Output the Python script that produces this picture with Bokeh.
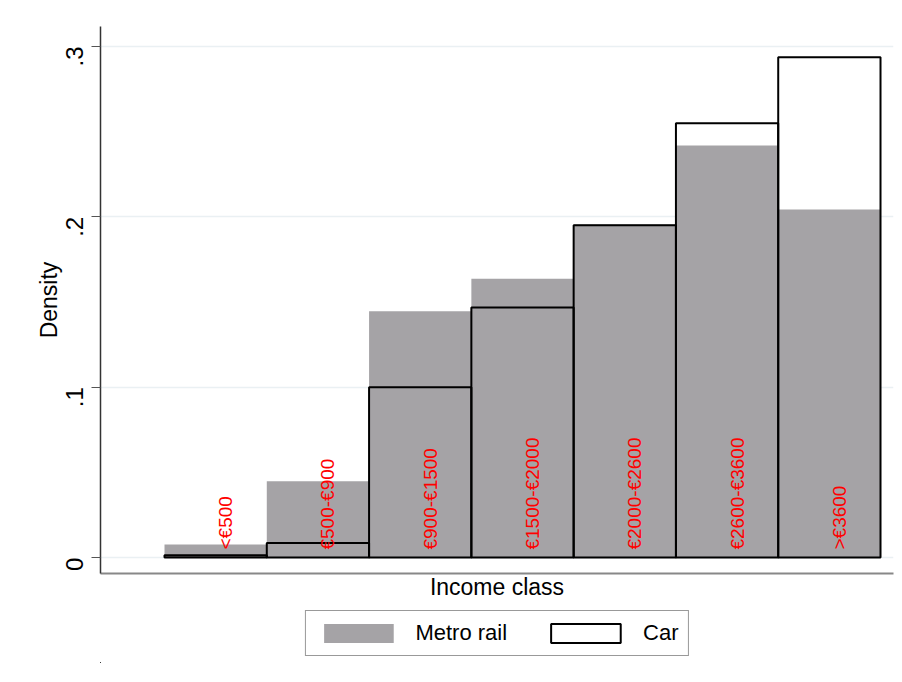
import math
from bokeh.plotting import figure
from bokeh.layouts import column
from bokeh.models import ColumnDataSource, FixedTicker, Legend, LegendItem, Range1d
from bokeh.core.properties import value
from bokeh.embed import file_html
from bokeh.resources import INLINE

# ---- data ----
categories = ["<€500", "€500-€900", "€900-€1500", "€1500-€2000",
              "€2000-€2600", "€2600-€3600", ">€3600"]
class_index = [1, 2, 3, 4, 5, 6, 7]
metro_rail = [0.0076, 0.0448, 0.1445, 0.1637, 0.1955, 0.2418, 0.2043]
car = [0.0013, 0.0085, 0.1000, 0.1468, 0.1950, 0.2549, 0.2936]
y_ticks = [0, 0.1, 0.2, 0.3]
y_tick_labels = {0: "0", 0.1: ".1", 0.2: ".2", 0.3: ".3"}
series_names = ["Metro rail", "Car"]

FONT = "Liberation Sans"
METRO_FILL = "#a5a3a6"

src = ColumnDataSource(dict(x=class_index, metro=metro_rail, car=car,
                            label=categories, zero=[0] * len(class_index)))

p = figure(frame_width=793, frame_height=547, output_backend="svg",
           toolbar_location=None, min_border_top=26, min_border_left=100,
           min_border_right=7, min_border_bottom=30,
           x_range=Range1d(-0.1257, 7.627), y_range=Range1d(-0.00937, 0.3117))
p.outline_line_color = None
p.background_fill_color = "white"
p.border_fill_color = "white"

p.vbar(x="x", top="metro", bottom=0, width=1.0, source=src,
       fill_color=METRO_FILL, line_color=None)
p.vbar(x="x", top="car", bottom=0, width=1.0, source=src,
       fill_color=None, line_color="black", line_width=2)

p.text(x="x", y="zero", text="label", source=src, angle=math.pi / 2,
       text_align="left", text_baseline="middle", x_offset=10, y_offset=-8,
       text_color="#ff0000", text_font=value(FONT), text_font_size="19px")

# grid
p.xgrid.grid_line_color = None
p.ygrid.ticker = FixedTicker(ticks=y_ticks)
p.ygrid.grid_line_color = "#eaf0f3"
p.ygrid.grid_line_width = 1.5
p.ygrid.level = "underlay"

# y axis
ya = p.yaxis[0]
ya.ticker = FixedTicker(ticks=y_ticks)
ya.major_label_overrides = y_tick_labels
ya.major_label_orientation = math.pi / 2
ya.major_label_text_font = FONT
ya.major_label_text_font_size = "24px"
ya.major_label_text_color = "black"
ya.major_tick_out = 9
ya.major_tick_in = 0
ya.minor_tick_out = 0
ya.minor_tick_in = 0
ya.major_tick_line_color = "#555555"
ya.axis_line_color = "#333333"
ya.axis_line_width = 1.5
ya.axis_label = "Density"
ya.axis_label_text_font = FONT
ya.axis_label_text_font_size = "23px"
ya.axis_label_text_font_style = "normal"
ya.axis_label_text_color = "black"
ya.axis_label_standoff = -7
ya.major_label_standoff = 17

# x axis
xa = p.xaxis[0]
xa.ticker = FixedTicker(ticks=[])
xa.major_tick_out = 0
xa.major_tick_in = 0
xa.minor_tick_out = 0
xa.axis_line_color = "#888888"
xa.axis_line_width = 2
xa.axis_label = "Income class"
xa.axis_label_text_font = FONT
xa.axis_label_text_font_size = "23px"
xa.axis_label_text_font_style = "normal"
xa.axis_label_text_color = "black"
xa.axis_label_standoff = 0
xa.major_label_standoff = 0

# ---- legend strip (separate figure below the plot) ----
# its ranges are set far away from the data so only the legend swatches show
p2 = figure(width=900, height=60, output_backend="svg", toolbar_location=None,
            x_axis_type=None, y_axis_type=None,
            min_border_top=0, min_border_bottom=0, min_border_left=100,
            min_border_right=7, x_range=Range1d(100, 101), y_range=Range1d(10, 11))
p2.outline_line_color = None
p2.xgrid.visible = False
p2.ygrid.visible = False
metro_r = p2.vbar(x="x", top="metro", width=1.0, source=src,
                  fill_color=METRO_FILL, line_color=None)
car_r = p2.vbar(x="x", top="car", width=1.0, source=src,
                fill_color="white", line_color="black", line_width=2)

legend = Legend(items=[LegendItem(label=series_names[0], renderers=[metro_r]),
                       LegendItem(label=series_names[1], renderers=[car_r])],
                orientation="horizontal", location="center")
legend.label_text_font = FONT
legend.label_text_font_size = "22px"
legend.label_text_color = "black"
legend.glyph_width = 87
legend.glyph_height = 24
legend.label_standoff = 14
legend.spacing = 35
legend.padding = 9
legend.margin = 0
legend.border_line_color = "#333333"
legend.border_line_width = 1
legend.background_fill_color = "white"
p2.add_layout(legend, "center")

layout = column(p, p2, spacing=0)
open("out.html", "w").write(file_html(layout, INLINE))
